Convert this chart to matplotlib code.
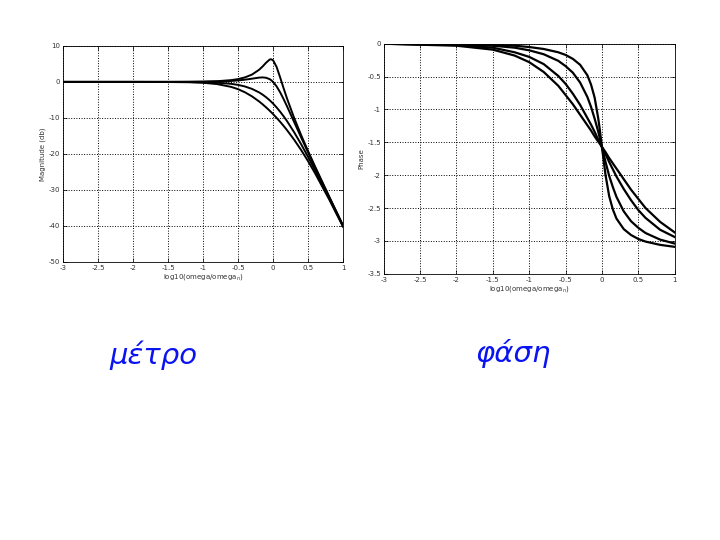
import numpy as np
import matplotlib
matplotlib.use('Agg')
import matplotlib.pyplot as plt

plt.rcParams['axes.unicode_minus'] = False

log_w = [-3, -2, -1.5, -1.2, -1, -0.8, -0.6, -0.5, -0.4, -0.3, -0.2, -0.15,
         -0.1, -0.05, -0.03, 0, 0.05, 0.1, 0.15, 0.2, 0.3, 0.4, 0.5, 0.6, 0.8, 1.0]

# magnitude in dB, one list per curve (sharpest peak first)
mag_a = [0, 0, 0.01, 0.03, 0.08, 0.19, 0.49, 0.78, 1.26, 2.05, 3.36, 4.27,
         5.32, 6.18, 6.30, 6.02, 4.18, 1.32, -1.73, -4.65, -9.95, -14.74,
         -19.22, -23.51, -31.81, -39.92]
mag_b = [0, 0, 0, 0.02, 0.04, 0.11, 0.26, 0.41, 0.62, 0.90, 1.19, 1.25,
         1.15, 0.78, 0.52, 0, -1.23, -2.85, -4.75, -6.81, -11.10, -15.38,
         -19.59, -23.74, -31.89, -39.96]
mag_c = [0, 0, -0.01, -0.03, -0.09, -0.22, -0.53, -0.83, -1.28, -1.95,
         -2.91, -3.53, -4.25, -5.08, -5.44, -6.02, -7.08, -8.25, -9.53,
         -10.91, -13.95, -17.28, -20.83, -24.53, -32.22, -40.09]
mag_d = [0, 0, -0.03, -0.10, -0.25, -0.60, -1.38, -2.02, -2.90, -4.03,
         -5.42, -6.21, -7.06, -7.97, -8.35, -8.94, -9.97, -11.06, -12.21,
         -13.42, -16.03, -18.90, -22.02, -25.38, -32.60, -40.25]

# phase in radians, same order
ph_a = [0, -0.01, -0.02, -0.03, -0.05, -0.08, -0.13, -0.17, -0.23, -0.32,
        -0.48, -0.62, -0.82, -1.14, -1.30, -1.57, -2.00, -2.32, -2.52,
        -2.66, -2.82, -2.91, -2.97, -3.01, -3.06, -3.09]
ph_b = [0, -0.01, -0.03, -0.06, -0.10, -0.16, -0.26, -0.34, -0.44, -0.59,
        -0.81, -0.96, -1.14, -1.34, -1.43, -1.57, -1.80, -2.01, -2.18,
        -2.33, -2.55, -2.70, -2.80, -2.88, -2.98, -3.04]
ph_c = [0, -0.02, -0.06, -0.13, -0.20, -0.31, -0.49, -0.61, -0.76, -0.93,
        -1.13, -1.23, -1.34, -1.46, -1.50, -1.57, -1.68, -1.80, -1.91,
        -2.02, -2.21, -2.38, -2.53, -2.65, -2.83, -2.94]
ph_d = [0, -0.03, -0.09, -0.18, -0.28, -0.43, -0.64, -0.78, -0.92, -1.08,
        -1.24, -1.32, -1.41, -1.49, -1.52, -1.57, -1.65, -1.74, -1.82,
        -1.90, -2.06, -2.22, -2.36, -2.50, -2.71, -2.87]

mag_curves = [mag_a, mag_b, mag_c, mag_d]
phase_curves = [ph_a, ph_b, ph_c, ph_d]

mag_ticks = [10, 0, -10, -20, -30, -40, -50]
phase_ticks = [0, -0.5, -1, -1.5, -2, -2.5, -3, -3.5]
x_ticks = [-3, -2.5, -2, -1.5, -1, -0.5, 0, 0.5, 1]

fig = plt.figure(figsize=(7.2, 5.4), dpi=100)
ax1 = fig.add_axes([0.0875, 0.515, 0.389, 0.40])
ax2 = fig.add_axes([0.533, 0.493, 0.404, 0.426])


def style_axes(ax):
    ax.grid(True, linestyle=':', color='black', linewidth=0.7)
    ax.tick_params(direction='in', labelsize=5, length=3, width=0.5,
                   top=True, right=True, pad=2, labelcolor='#333333')
    for s in ax.spines.values():
        s.set_linewidth(0.6)
    ax.set_xticks(x_ticks)
    ax.set_xticklabels([('%g' % t) for t in x_ticks])
    ax.set_xlim(-3, 1)


for m in mag_curves:
    ax1.plot(log_w, m, color='black', linewidth=1.4)
style_axes(ax1)
ax1.set_ylim(-50, 10)
ax1.set_yticks(mag_ticks)
ax1.set_ylabel('Magnitude (db)', fontsize=5, labelpad=2, color='#333333')
ax1.set_xlabel('log10(omega/omega$_n$)', fontsize=5, labelpad=1, color='#333333')

for p in phase_curves:
    ax2.plot(log_w, p, color='black', linewidth=1.6)
style_axes(ax2)
ax2.set_ylim(-3.5, 0)
ax2.set_yticks(phase_ticks)
ax2.set_yticklabels([('%g' % t) for t in phase_ticks])
ax2.set_ylabel('Phase', fontsize=5, labelpad=2, color='#333333')
ax2.set_xlabel('log10(omega/omega$_n$)', fontsize=5, labelpad=1, color='#333333')

# handwritten notes under each panel
fig.text(0.152, 0.325, 'μέτρο', color='#0a14f0', fontsize=21,
         style='italic', fontfamily='DejaVu Sans')
fig.text(0.66, 0.33, 'φάση', color='#0a14f0', fontsize=21,
         style='italic', fontfamily='DejaVu Sans')

fig.savefig('out.png', dpi=100)
